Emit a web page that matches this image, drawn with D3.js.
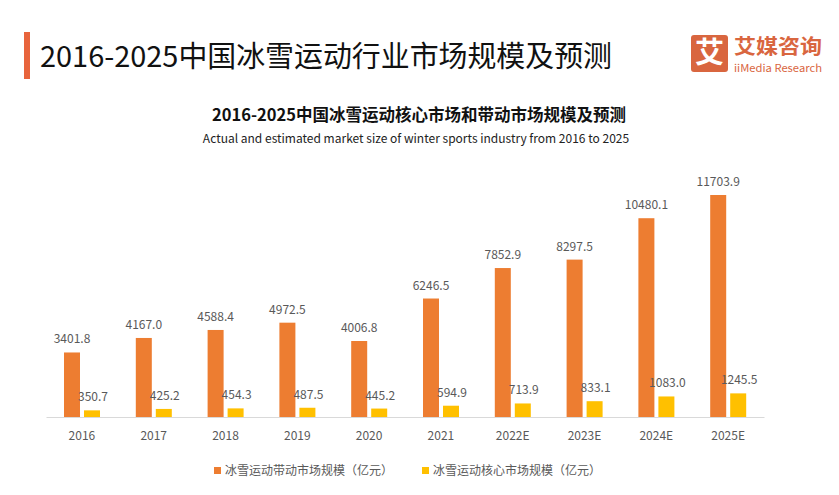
<!DOCTYPE html>
<html>
<head>
<meta charset="utf-8">
<script src="https://cdn.jsdelivr.net/npm/d3@7"></script>
<style>
  html, body { margin: 0; padding: 0; background: #fff; }
  svg { display: block; font-family: "Noto Sans CJK SC", "Noto Sans", sans-serif; }
</style>
</head>
<body>
<svg id="chart" width="839" height="495"></svg>
<script>
const categories = ["2016", "2017", "2018", "2019", "2020", "2021", "2022E", "2023E", "2024E", "2025E"];
const drivenMarket = [3401.8, 4167.0, 4588.4, 4972.5, 4006.8, 6246.5, 7852.9, 8297.5, 10480.1, 11703.9];
const coreMarket = [350.7, 425.2, 454.3, 487.5, 445.2, 594.9, 713.9, 833.1, 1083.0, 1245.5];
const seriesNames = ["冰雪运动带动市场规模（亿元）", "冰雪运动核心市场规模（亿元）"];
const seriesColors = ["#ED7D31", "#FFC000"];

const svg = d3.select("#chart");

// Header
svg.append("rect").attr("x", 24).attr("y", 32).attr("width", 6).attr("height", 47).attr("fill", "#E8643C");
svg.append("text").attr("x", 40).attr("y", 67)
  .attr("font-size", 29).attr("fill", "#111")
  .attr("textLength", 572).attr("lengthAdjust", "spacingAndGlyphs")
  .text("2016-2025中国冰雪运动行业市场规模及预测");

// Logo
const logo = svg.append("g");
logo.append("rect").attr("x", 691).attr("y", 35).attr("width", 37).attr("height", 37).attr("rx", 3).attr("fill", "#D9663F");
logo.append("text").attr("x", 709.5).attr("y", 63).attr("text-anchor", "middle")
  .attr("font-size", 29).attr("font-weight", "bold").attr("fill", "#fff").text("艾");
logo.append("text").attr("x", 734).attr("y", 54).attr("font-size", 20).attr("font-weight", "bold")
  .attr("textLength", 88).attr("lengthAdjust", "spacingAndGlyphs")
  .attr("fill", "#D9663F").text("艾媒咨询");
logo.append("text").attr("x", 734).attr("y", 72).attr("font-size", 10.5).attr("textLength", 88)
  .attr("lengthAdjust", "spacingAndGlyphs")
  .attr("fill", "#D9663F").text("iiMedia Research");

// Chart titles
svg.append("text").attr("x", 419).attr("y", 121).attr("text-anchor", "middle")
  .attr("font-size", 16.5).attr("font-weight", "bold").attr("fill", "#111")
  .text("2016-2025中国冰雪运动核心市场和带动市场规模及预测");
svg.append("text").attr("x", 416).attr("y", 143).attr("text-anchor", "middle")
  .attr("font-size", 12).attr("fill", "#222")
  .text("Actual and estimated market size of winter sports industry from 2016 to 2025");

// Scales
const baseY = 417;
const x = d3.scaleBand().domain(categories).range([46, 764]).padding(0);
const y = d3.scaleLinear().domain([0, 11703.9]).range([baseY, 195]);
const barW = 16;
const offsets = [18, 38];
const allSeries = [drivenMarket, coreMarket];

allSeries.forEach((vals, si) => {
  const g = svg.append("g");
  g.selectAll("rect").data(vals).join("rect")
    .attr("x", (d, i) => x(categories[i]) + offsets[si])
    .attr("y", d => y(d))
    .attr("width", barW)
    .attr("height", d => baseY - y(d))
    .attr("fill", seriesColors[si]);
  g.selectAll("text").data(vals).join("text")
    .attr("x", (d, i) => x(categories[i]) + offsets[si] + barW / 2 + (si === 1 ? 1 : 0))
    .attr("y", d => y(d) - 9)
    .attr("text-anchor", "middle")
    .attr("font-size", 12)
    .attr("fill", "#595959")
    .text(d => d.toFixed(1));
});

// X axis
const xAxis = d3.axisBottom(x).tickSize(0).tickPadding(14);
const ax = svg.append("g").attr("transform", `translate(0,${baseY})`).call(xAxis);
ax.select(".domain").attr("stroke", "#D9D9D9");
ax.selectAll("text").attr("font-size", 12).attr("fill", "#595959")
  .attr("font-family", "\"Noto Sans CJK SC\", sans-serif");

// Legend
const legendX = [214, 422];
seriesNames.forEach((name, i) => {
  svg.append("rect").attr("x", legendX[i]).attr("y", 467).attr("width", 7).attr("height", 7).attr("fill", seriesColors[i]);
  svg.append("text").attr("x", legendX[i] + 11).attr("y", 475).attr("font-size", 12).attr("fill", "#595959").text(name);
});
</script>
</body>
</html>
